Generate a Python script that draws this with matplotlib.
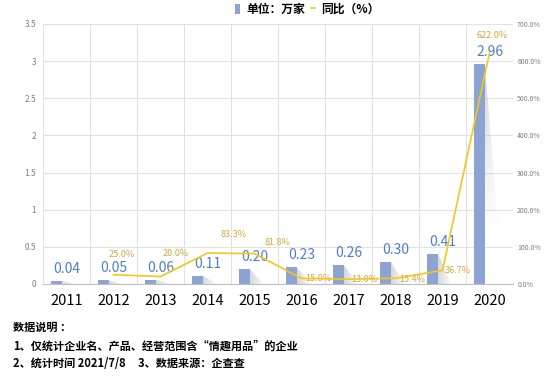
import matplotlib
matplotlib.use("Agg")
from matplotlib import pyplot as plt
from matplotlib.patches import Polygon, Patch
from matplotlib.lines import Line2D
import numpy as np

plt.rcParams['font.family'] = ['Noto Sans CJK SC', 'DejaVu Sans']

years = ['2011', '2012', '2013', '2014', '2015', '2016', '2017', '2018', '2019', '2020']
counts = [0.04, 0.05, 0.06, 0.11, 0.20, 0.23, 0.26, 0.30, 0.41, 2.96]
yoy_years = ['2012', '2013', '2014', '2015', '2016', '2017', '2018', '2019', '2020']
yoy = [25.0, 20.0, 83.3, 81.8, 15.0, 13.0, 15.4, 36.7, 622.0]

# label offsets for the yoy labels (pixels), hand placed like the original
yoy_off = [(8, 20), (15, 23), (26, 19), (23, 11), (17, 0), (16, 0), (17, -1), (15, 0), (3, 17)]

bar_color = '#8da3d2'
val_color = '#4f7fc6'
line_color = '#f2c81e'
pct_color = '#d4a541'
grid_color = '#e2e2e2'
tick_color = '#7f7f7f'

fig = plt.figure(figsize=(5.54, 3.79), dpi=100)
ax = fig.add_axes([0.0776, 0.2507, 0.8484, 0.686])
ax2 = ax.twinx()

x = np.arange(len(years))
bw = 0.22
bx = x - 0.21

# fading shadows to the right of each bar
grad = np.zeros((64, 64, 4))
grad[..., :3] = 0.78
yy, xx = np.mgrid[0:1:64j, 0:1:64j]
grad[..., 3] = 0.75 * (1 - yy) * (1 - 0.6 * xx)
for xi, h in zip(bx, counts):
    r = xi + bw / 2
    low = max(0.0, h - 2.3)
    im = ax.imshow(grad, extent=(r, r + 0.3, low, h), origin='upper',
                   aspect='auto', zorder=2, interpolation='bilinear')
    tri = Polygon([(r, h), (r + 0.3, low), (r, low)], closed=True,
                  transform=ax.transData, facecolor='none', edgecolor='none')
    im.set_clip_path(tri)
    if h < 1:
        grad_small = grad.copy()
        grad_small[..., 3] = 0.7 * (1 - xx)
        im.set_data(grad_small)

ax.bar(bx, counts, width=bw, color=bar_color, zorder=3)
for xi, h in zip(x, counts):
    ax.annotate(f'{h:.2f}', (xi, h), xytext=(0, 5), textcoords='offset pixels',
                ha='center', va='bottom', fontsize=10, color=val_color, zorder=5)

ax.set_xlim(-0.5, len(years) - 0.5)
ax.set_ylim(0, 3.5)
ax.set_yticks(np.arange(0, 3.51, 0.5))
ax.set_yticklabels(['0', '0.5', '1', '1.5', '2', '2.5', '3', '3.5'])
ax.set_xticks(x)
ax.set_xticklabels(years, fontsize=10.5)
ax.set_xticks(np.arange(-0.5, len(years), 1), minor=True)
ax.tick_params(axis='x', which='both', length=0, pad=7)
ax.tick_params(axis='y', length=0, labelsize=6, colors=tick_color, pad=5)
ax.grid(axis='y', color=grid_color, linewidth=0.8, zorder=0)
ax.grid(axis='x', which='minor', color=grid_color, linewidth=0.8, zorder=0)
ax.grid(axis='x', which='major', visible=False)
ax.set_axisbelow(True)
for s in ['top', 'right', 'left']:
    ax.spines[s].set_visible(False)
ax.spines['bottom'].set_color('#bfbfbf')

lx = [years.index(y) for y in yoy_years]
ax2.plot(lx, yoy, color=line_color, linewidth=1.2, zorder=4)
for xi, v, (dx, dy) in zip(lx, yoy, yoy_off):
    ax2.annotate(f'{v:.1f}%', (xi, v), xytext=(dx, dy), textcoords='offset pixels',
                 ha='center', va='center', fontsize=6.5, color=pct_color)
ax2.set_ylim(0, 700)
ax2.set_yticks(np.arange(0, 701, 100))
ax2.set_yticklabels([f'{v:.1f}%' for v in np.arange(0, 701, 100)])
ax2.tick_params(axis='y', length=0, labelsize=5, colors=tick_color, pad=3)
for s in ax2.spines.values():
    s.set_visible(False)

handles = [Patch(facecolor=bar_color, edgecolor='none'),
           Line2D([0], [0], color=line_color, linewidth=1.2)]
fig.legend(handles, ['单位：万家', '同比（%）'], loc='center', bbox_to_anchor=(0.555, 0.975),
           ncol=2, frameon=False, handlelength=0.4, handleheight=1.0, handletextpad=0.5,
           columnspacing=0.5, prop={'size': 8.5, 'weight': 'bold'})

fig.text(0.024, 0.135, '数据说明 ：', fontsize=8, fontweight='bold', va='center')
fig.text(0.024, 0.087, '1、仅统计企业名、产品、经营范围含“情趣用品”的企业', fontsize=8,
         fontweight='bold', va='center')
fig.text(0.024, 0.042, '2、统计时间 2021/7/8     3、数据来源：企查查', fontsize=8,
         fontweight='bold', va='center')

fig.savefig('out.png', dpi=100)
